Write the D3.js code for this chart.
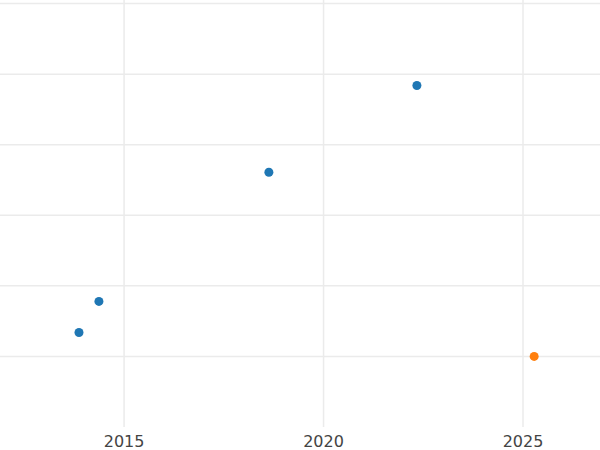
<!DOCTYPE html>
<html><head><meta charset="utf-8">
<script src="https://cdn.jsdelivr.net/npm/d3@7"></script>
<style>body{margin:0;background:#fff}</style>
</head><body>
<svg id="chart" width="600" height="450"></svg>
<script>
// data
var years = [2013.87, 2014.37, 2018.63, 2022.34, 2025.28];
var values = [0.34, 0.78, 2.61, 3.84, 0];
var groups = ["a", "a", "a", "a", "b"];
var xTicks = [2015, 2020, 2025];
var yTicks = [0, 1, 2, 3, 4, 5];

var svg = d3.select("#chart");
var plotBottom = 427;

var x = d3.scaleLinear().domain([2011.89, 2026.93]).range([0, 600]);
var y = d3.scaleLinear().domain([-1.0, 5.03]).range([plotBottom, 1.5]);
var color = d3.scaleOrdinal().domain(["a", "b"]).range(["#1f77b4", "#ff7f0e"]);

svg.append("g").selectAll("line").data(yTicks).join("line")
  .attr("x1", 0).attr("x2", 600)
  .attr("y1", d => y(d)).attr("y2", d => y(d))
  .attr("stroke", "#ebebeb").attr("stroke-width", 1.5);

svg.append("g").selectAll("line").data(xTicks).join("line")
  .attr("x1", d => x(d)).attr("x2", d => x(d))
  .attr("y1", 0).attr("y2", plotBottom)
  .attr("stroke", "#ebebeb").attr("stroke-width", 1.5);

svg.append("g").selectAll("text").data(xTicks).join("text")
  .attr("x", d => x(d)).attr("y", 447)
  .attr("text-anchor", "middle")
  .attr("font-family", "DejaVu Sans").attr("font-size", 16)
  .attr("fill", "#444")
  .text(d => d);

svg.append("g").selectAll("circle").data(years).join("circle")
  .attr("cx", d => x(d))
  .attr("cy", (d, i) => y(values[i]))
  .attr("r", 4.5)
  .attr("fill", (d, i) => color(groups[i]));
</script>
</body></html>
